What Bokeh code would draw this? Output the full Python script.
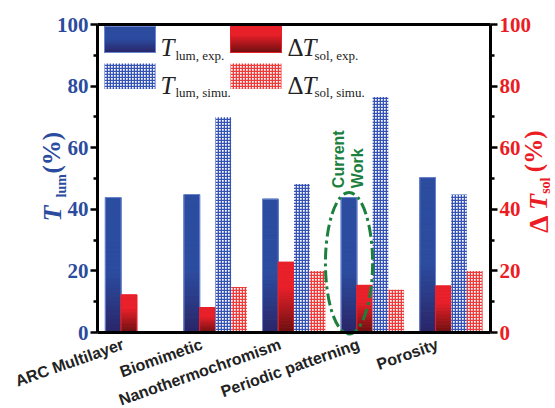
import math
import numpy as np
from bokeh.plotting import figure
from bokeh.models import Range1d, LinearAxis, Label, FixedTicker, ColumnDataSource
from bokeh.embed import file_html
from bokeh.resources import INLINE

# ---------------- data ----------------
categories = ["ARC Multilayer", "Biomimetic", "Nanothermochromism", "Periodic patterning", "Porosity"]
t_lum_exp = [43.8, 44.8, 43.3, 43.8, 50.3]
dt_sol_exp = [12.2, 8.1, 22.8, 15.3, 15.1]
t_lum_simu = [np.nan, 69.9, 48.2, 76.5, 44.8]
dt_sol_simu = [np.nan, 14.8, 20.0, 13.9, 20.0]
y_ticks = [0, 20, 40, 60, 80, 100]
y_minor = [10, 30, 50, 70, 90]
current_idx = 3

# ---------------- layout / style ----------------
W, H = 555, 408
# box of the plotting area on the page (px)
PL, PR, PT, PB = 97, 490, 24, 332
NC = len(categories)
SX = (PR - PL) / NC          # px per category
SY = (PB - PT) / 100.0       # px per percent


def dx(page_x):
    return -0.5 + (page_x - PL) / SX


def dy(page_y):
    return (PB - page_y) / SY


BLUE_TOP, BLUE_BOT = "#2c4c9f", "#2a2568"
RED_TOP, RED_BOT = "#e8202a", "#6a1010"
BLUE_EDGE, RED_EDGE = "#6a86d0", "#e8202a"
HATCH_BLUE, HATCH_RED = "#3552b5", "#f03a3a"
AX_BLUE, AX_RED = "#2b4c9e", "#ec1c24"
GREEN = "#1b803e"
TXT = "#222222"
SERIF = "Liberation Serif"
SANS = "Liberation Sans"
BW = 0.2
offsets = [-0.3, -0.1, 0.1, 0.3]
xs = np.arange(NC)

p = figure(width=W, height=H, x_range=Range1d(dx(0), dx(W)), y_range=Range1d(dy(H), dy(0)),
           output_backend="svg", toolbar_location=None, title=None,
           min_border_left=0, min_border_right=0, min_border_top=0, min_border_bottom=0)
p.extra_y_ranges = {"sol": Range1d(dy(H), dy(0))}
p.background_fill_color = "white"
p.border_fill_color = "white"
p.outline_line_color = None
p.grid.visible = False
p.xaxis.visible = False
p.yaxis.visible = False


def mix(c1, c2, s):
    a = [int(c1[i:i + 2], 16) for i in (1, 3, 5)]
    b = [int(c2[i:i + 2], 16) for i in (1, 3, 5)]
    return "#" + "".join("%02x" % int(round(a[k] + (b[k] - a[k]) * s)) for k in range(3))


def grad_color(u, top, bot, solid):
    if u <= solid:
        return top
    return mix(top, bot, (u - solid) / (1 - solid))


def grad_quads(lefts, rights, bottoms, tops, top_col, bot_col, solid, n=30):
    L, R, B, T, C = [], [], [], [], []
    for l, r, b, t in zip(lefts, rights, bottoms, tops):
        if not np.isfinite(t):
            continue
        for k in range(n):
            L.append(l); R.append(r)
            B.append(b + (t - b) * k / n)
            T.append(b + (t - b) * (k + 1) / n)
            C.append(grad_color(1 - (k + 0.5) / n, top_col, bot_col, solid))
    src = ColumnDataSource(dict(left=L, right=R, bottom=B, top=T, color=C))
    p.quad(left="left", right="right", bottom="bottom", top="top", fill_color="color",
           line_color="color", line_width=1.0, source=src)


def gradient_bars(vals, off, top_col, bot_col, edge, solid):
    v = np.array(vals, dtype=float)
    grad_quads(xs + off - BW / 2, xs + off + BW / 2, np.zeros_like(v), v, top_col, bot_col, solid)
    ok = np.isfinite(v)
    p.vbar(x=(xs + off)[ok], top=v[ok], width=BW, fill_alpha=0, line_color=edge, line_width=1)


HATCH = dict(hatch_pattern="cross", hatch_scale=3, hatch_weight=1.6)


def hatched_bars(vals, off, col):
    v = np.array(vals, dtype=float)
    ok = np.isfinite(v)
    p.vbar(x=(xs + off)[ok], top=v[ok], width=BW, fill_color="white", line_color=None,
           hatch_color=col, **HATCH)


gradient_bars(t_lum_exp, offsets[0], BLUE_TOP, BLUE_BOT, BLUE_EDGE, 0.55)
gradient_bars(dt_sol_exp, offsets[1], RED_TOP, RED_BOT, RED_EDGE, 0.35)
hatched_bars(t_lum_simu, offsets[2], HATCH_BLUE)
hatched_bars(dt_sol_simu, offsets[3], HATCH_RED)

# ---------------- "Current Work" highlight ----------------
cx = current_idx + offsets[0]
cv = t_lum_exp[current_idx]
p.ellipse(x=[cx], y=[cv / 2 + 0.6], width=0.6, height=cv * 1.05, fill_alpha=0,
          line_color=GREEN, line_width=3, line_dash="12 4 3 4")


def lab(x, y, text, size, color, style="bold", font=SERIF, angle=0.0, align="left",
        baseline="alphabetic"):
    p.add_layout(Label(x=x, y=y, text=text, angle=angle, text_align=align,
                       text_baseline=baseline, text_font=font, text_font_style=style,
                       text_font_size=size, text_color=color))


V = math.pi / 2
for txt, ddx in (("Current", -0.14), ("Work", 0.105)):
    lab(cx + ddx, cv * 1.07, txt, "16px", GREEN, "bold", font=SANS, angle=V, baseline="middle")

# ---------------- axes (fixed at the box edges) ----------------
ticker = FixedTicker(ticks=y_ticks, minor_ticks=y_minor)


def style_axis(ax, color):
    ax.ticker = ticker
    ax.bounds = (0, 100)
    ax.axis_line_width = 3
    ax.axis_line_color = "black"
    ax.major_tick_line_width = 2.5
    ax.minor_tick_line_width = 2.5
    ax.major_tick_out = 7
    ax.major_tick_in = 0
    ax.minor_tick_out = 4
    ax.minor_tick_in = 0
    ax.major_label_standoff = 2
    ax.major_label_text_font = SERIF
    ax.major_label_text_font_style = "bold"
    ax.major_label_text_font_size = "21px"
    ax.major_label_text_color = color


lax = LinearAxis(fixed_location=-0.5)
style_axis(lax, AX_BLUE)
p.add_layout(lax, "left")
rax = LinearAxis(y_range_name="sol", fixed_location=NC - 0.5)
style_axis(rax, AX_RED)
p.add_layout(rax, "right")
for loc, side in ((0, "below"), (100, "above")):
    bx = LinearAxis(fixed_location=loc, bounds=(-0.5, NC - 0.5), ticker=FixedTicker(ticks=[]),
                    axis_line_width=3, axis_line_color="black", major_tick_line_color=None,
                    minor_tick_line_color=None, major_label_text_font_size="0px")
    p.add_layout(bx, side)

# left axis title  T_lum (%)
lab(dx(52), dy(221), "T", "26px", AX_BLUE, "bold italic", angle=V)
lab(dx(61), dy(197), "lum", "14px", AX_BLUE, "bold", angle=V)
lab(dx(51), dy(173), "(%)", "25px", AX_BLUE, "bold", angle=V)
# right axis title  ΔT_sol (%)  (anchored at the upper end of each piece)
lab(dx(538), dy(215), "Δ", "28px", AX_RED, "bold", angle=V, align="right")
lab(dx(538), dy(193.5), "T", "26px", AX_RED, "bold italic", angle=V, align="right")
lab(dx(545), dy(177), "sol", "14px", AX_RED, "bold", angle=V, align="right")
lab(dx(533), dy(130), "(%)", "25px", AX_RED, "bold", angle=V, align="right")

# category labels
for i, c in enumerate(categories):
    lab(i - 0.21, dy(335), c, "16px", TXT, "bold", font=SANS, angle=0.34, align="right", baseline="top")

# ---------------- legend ----------------
rows = [(26, 52, 47, 54.5), (63, 88.5, 84.5, 92)]
for r, (ytop, ybot, base, subbase) in enumerate(rows):
    box1 = dict(left=[dx(104)], right=[dx(155)], bottom=[dy(ybot)], top=[dy(ytop)])
    box2 = dict(left=[dx(230)], right=[dx(281)], bottom=[dy(ybot)], top=[dy(ytop)])
    if r == 0:
        grad_quads(box1["left"], box1["right"], box1["bottom"], box1["top"], BLUE_TOP, BLUE_BOT, 0.45)
        p.quad(**box1, fill_alpha=0, line_color=BLUE_EDGE, line_width=1)
        grad_quads(box2["left"], box2["right"], box2["bottom"], box2["top"], RED_TOP, RED_BOT, 0.3)
        p.quad(**box2, fill_alpha=0, line_color=RED_EDGE, line_width=1)
        sub1, sub2 = "lum, exp.", "sol, exp."
    else:
        p.quad(**box1, fill_color="white", line_color=None, hatch_color=HATCH_BLUE, **HATCH)
        p.quad(**box2, fill_color="white", line_color=None, hatch_color=HATCH_RED, **HATCH)
        sub1, sub2 = "lum, simu.", "sol, simu."
    lab(dx(160), dy(base), "T", "25px", TXT, "italic")
    lab(dx(175), dy(subbase), sub1, "13px", TXT, "normal")
    lab(dx(287), dy(base), "Δ", "25px", TXT, "normal")
    lab(dx(302), dy(base), "T", "25px", TXT, "italic")
    lab(dx(314), dy(subbase), sub2, "13px", TXT, "normal")

open("out.html", "w").write(file_html(p, INLINE))
